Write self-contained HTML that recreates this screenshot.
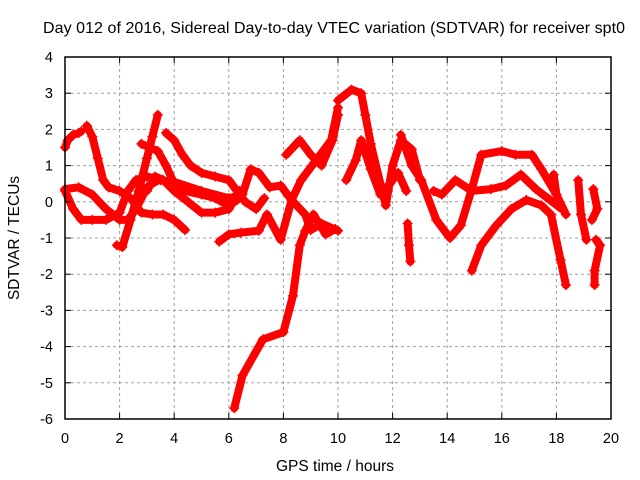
<!DOCTYPE html>
<html><head><meta charset="utf-8"><style>
body{margin:0;background:#fff;}
svg{display:block;font-family:"Liberation Sans",sans-serif;}
</style></head><body>
<svg id="chart" width="640" height="480">
<text x="334" y="33" font-size="16" text-anchor="middle" textLength="582">Day 012 of 2016, Sidereal Day-to-day VTEC variation (SDTVAR) for receiver spt0</text>
<text x="335" y="471" font-size="15.5" text-anchor="middle">GPS time / hours</text>
<text transform="translate(19,238) rotate(-90)" font-size="15.5" text-anchor="middle">SDTVAR / TECUs</text>
<g id="grid"></g><g id="marks"></g><g id="axes"></g>
</svg>
<script>
const xTicks=[0,2,4,6,8,10,12,14,16,18,20];
const yTicks=[-6,-5,-4,-3,-2,-1,0,1,2,3,4];
const arc1=[[0,1.5],[0.1,1.7],[0.3,1.85],[0.5,1.9],[0.6,1.95]];
const arc2=[[0.8,2.1],[1.0,1.8],[1.2,1.2],[1.4,0.6],[1.6,0.4],[2.0,0.3],[2.4,0.1],[2.8,-0.3],[3.2,-0.35],[3.6,-0.35],[4.0,-0.5],[4.4,-0.78]];
const arc3=[[1.9,-1.2],[2.1,-1.25],[2.4,-0.5],[2.7,0.3],[3.0,1.2],[3.2,1.8],[3.4,2.4]];
const arc4=[[0,0.3],[0.3,-0.2],[0.6,-0.5],[1.0,-0.5],[1.5,-0.5],[2.0,-0.3],[2.3,0.3],[2.6,0.6],[3.0,0.7],[3.5,0.6],[4.0,0.5]];
const arc5=[[0,0.35],[0.5,0.4],[1.0,0.2],[1.5,-0.2],[2.0,-0.5],[2.3,-0.5],[2.6,-0.2],[3.0,0.4],[3.4,0.6],[4.0,0.55],[5.0,0.3],[6.0,0.1],[6.5,0.2],[6.8,0.9],[7.1,0.8],[7.5,0.4],[7.9,0.45],[8.3,0.05]];
const arc6=[[3.7,1.9],[4.0,1.7],[4.3,1.3],[4.6,1.0],[5.0,0.8],[5.5,0.7],[6.0,0.6],[6.4,0.2],[6.6,0.0],[7.0,-0.2],[7.3,0.1]];
const arc7=[[2.8,1.6],[3.1,1.5],[3.4,1.4],[3.7,1.0],[4.0,0.5],[4.4,0.3],[5.0,0.2],[5.5,0.1],[6.0,-0.1],[6.3,0.05]];
const arc8=[[3.0,0.3],[3.3,0.7],[3.6,0.6],[4.0,0.3],[4.5,0.0],[5.0,-0.3],[5.5,-0.3],[6.0,-0.2],[6.4,0.3]];
const arc9=[[5.65,-1.1],[6.0,-0.9],[6.45,-0.85],[7.1,-0.8],[7.4,-0.35],[7.9,-1.05],[8.3,0.05],[8.8,-0.35],[9.0,-0.78],[9.4,-0.6],[10.0,-0.8]];
const arc10=[[6.2,-5.7],[6.5,-4.8],[7.25,-3.8],[8.0,-3.6],[8.35,-2.6],[8.6,-1.2],[8.8,-0.8],[9.1,-0.35],[9.55,-0.9],[9.9,-0.75]];
const arc11=[[8.1,1.3],[8.6,1.7],[9.0,1.3],[9.4,1.0],[9.8,1.7],[10.0,2.4]];
const arc12=[[8.3,0.05],[8.65,0.6],[9.2,1.15],[9.75,1.7],[10.0,2.6]];
const arc13=[[10.0,2.8],[10.5,3.1],[10.85,3.0],[11.0,2.4],[11.2,1.6],[11.6,0.35],[11.75,-0.1],[12.0,1.0],[12.3,1.7],[12.7,1.45],[13.0,0.6]];
const arc14=[[10.3,0.6],[10.65,1.15],[10.85,1.7],[11.2,0.9],[11.55,0.2],[11.9,0.5],[12.2,0.8],[12.5,0.3]];
const arc15=[[12.55,-0.6],[12.6,-1.2],[12.65,-1.65]];
const arc16=[[12.3,1.85],[12.7,1.0],[13.05,0.6],[13.6,-0.5],[14.1,-1.0],[14.5,-0.65],[14.9,0.35],[15.25,1.3],[16.0,1.4],[16.5,1.3],[17.1,1.3],[17.45,0.9],[18.0,0.2],[18.35,-0.35]];
const arc17=[[13.5,0.3],[13.8,0.2],[14.3,0.6],[14.9,0.3],[15.6,0.35],[16.15,0.45],[16.7,0.75],[17.25,0.35],[18.2,-0.2]];
const arc18=[[14.9,-1.9],[15.25,-1.2],[15.8,-0.65],[16.35,-0.2],[16.9,0.05],[17.45,-0.1],[17.8,-0.35],[18.15,-1.6],[18.35,-2.3]];
const arc19=[[17.9,0.75],[18.0,0.2]];
const arc20=[[18.8,0.6],[18.9,-0.35],[19.1,-1.05]];
const arc21=[[19.35,0.35],[19.5,-0.2],[19.3,-0.5]];
const arc22=[[19.45,-1.05],[19.6,-1.2],[19.4,-1.9],[19.4,-2.3]];
const arcs=[arc1,arc2,arc3,arc4,arc5,arc6,arc7,arc8,arc9,arc10,arc11,arc12,arc13,arc14,arc15,arc16,arc17,arc18,arc19,arc20,arc21,arc22];

const X0=65,X1=611,Y0=419,Y1=57;
const sx=v=>X0+(v-0)/(20-0)*(X1-X0);
const sy=v=>Y0-(v+6)/(10)*(Y0-Y1);
const NS='http://www.w3.org/2000/svg';
function mk(tag,attrs,parent){const e=document.createElementNS(NS,tag);for(const k in attrs)e.setAttribute(k,attrs[k]);parent.appendChild(e);return e;}
const grid=document.getElementById('grid'),marks=document.getElementById('marks'),axes=document.getElementById('axes');
xTicks.forEach(t=>{
  if(t>0&&t<20){const g=mk('line',{x1:sx(t),x2:sx(t),y1:Y1,y2:Y0,stroke:'#a0a0a0','stroke-dasharray':'3,3'},grid);
  
  }
  const l=mk('text',{x:sx(t),y:Y0+24,'font-size':'14.5','text-anchor':'middle'},axes);l.textContent=t;
  
  
  mk('line',{x1:sx(t),x2:sx(t),y1:Y0,y2:Y0-6,stroke:'#000'},axes);
  mk('line',{x1:sx(t),x2:sx(t),y1:Y1,y2:Y1+6,stroke:'#000'},axes);
});
yTicks.forEach(t=>{
  if(t>-6&&t<4){const g=mk('line',{x1:X0,x2:X1,y1:sy(t),y2:sy(t),stroke:'#a0a0a0','stroke-dasharray':'3,3'},grid);
  
  }
  const l=mk('text',{x:X0-12,y:sy(t)+5,'font-size':'14.5','text-anchor':'end'},axes);l.textContent=t;
  
  
  mk('line',{x1:X0,x2:X0+6,y1:sy(t),y2:sy(t),stroke:'#000'},axes);
  mk('line',{x1:X1,x2:X1-6,y1:sy(t),y2:sy(t),stroke:'#000'},axes);
});
const frame=mk('rect',{x:X0,y:Y1,width:X1-X0,height:Y0-Y1,fill:'none',stroke:'#000','stroke-width':1.5},axes);


arcs.forEach((a,i)=>{
  const pl=mk('polyline',{points:a.map(p=>sx(p[0])+','+sy(p[1])).join(' '),fill:'none',stroke:'#f00','stroke-width':8,'stroke-linejoin':'round','stroke-linecap':'round'},marks);
  
  
  a.forEach(p=>{
    const x=sx(p[0]),y=sy(p[1]);
    const m=mk('path',{d:`M${x-5},${y}H${x+5}M${x},${y-5}V${y+5}`,stroke:'#f00','stroke-width':1.5},marks);
    
    
  });
});
</script>
</body></html>
